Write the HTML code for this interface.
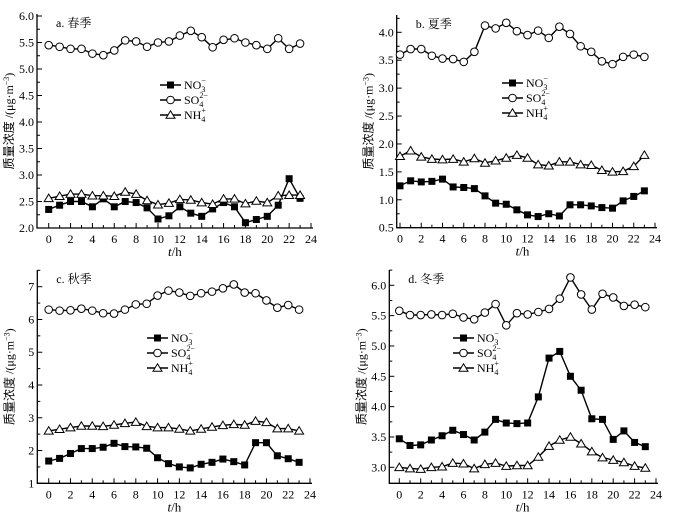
<!DOCTYPE html>
<html><head><meta charset="utf-8">
<style>
html,body{margin:0;padding:0;background:#fff;}
svg{display:block;}
text{font-family:"Liberation Serif","Noto Serif CJK SC",serif;fill:#000;}
</style></head>
<body>
<svg id="chart" width="673" height="522" viewBox="0 0 673 522" xmlns="http://www.w3.org/2000/svg"></svg>
<script>
const hours = [0,1,2,3,4,5,6,7,8,9,10,11,12,13,14,15,16,17,18,19,20,21,22,23];
const xTicks = [0,2,4,6,8,10,12,14,16,18,20,22,24];
const panelTitles = ["a. 春季","b. 夏季","c. 秋季","d. 冬季"];
const seriesNames = ["NO3","SO4","NH4"];
const springNO3 = [2.35,2.43,2.5,2.5,2.4,2.55,2.4,2.5,2.48,2.38,2.17,2.23,2.4,2.28,2.22,2.36,2.48,2.4,2.1,2.16,2.22,2.43,2.93,2.56];
const springSO4 = [5.45,5.42,5.38,5.38,5.29,5.26,5.35,5.54,5.52,5.42,5.5,5.52,5.63,5.72,5.6,5.41,5.55,5.58,5.5,5.45,5.38,5.58,5.38,5.48];
const springNH4 = [2.56,2.6,2.64,2.64,2.61,2.61,2.6,2.68,2.64,2.52,2.44,2.47,2.54,2.53,2.48,2.45,2.55,2.55,2.46,2.51,2.48,2.61,2.62,2.62];
const summerNO3 = [1.25,1.34,1.32,1.33,1.37,1.23,1.22,1.2,1.07,0.94,0.92,0.82,0.73,0.7,0.75,0.71,0.91,0.91,0.89,0.86,0.85,0.98,1.06,1.16];
const summerSO4 = [3.6,3.7,3.7,3.58,3.53,3.52,3.47,3.65,4.12,4.07,4.17,4.02,3.95,4.03,3.9,4.1,3.97,3.75,3.65,3.48,3.43,3.56,3.6,3.56];
const summerNH4 = [1.78,1.88,1.77,1.73,1.72,1.73,1.68,1.74,1.66,1.7,1.75,1.8,1.75,1.63,1.61,1.68,1.68,1.63,1.62,1.53,1.5,1.51,1.6,1.8];
const autumnNO3 = [1.68,1.76,1.91,2.06,2.06,2.1,2.22,2.12,2.11,2.07,1.78,1.6,1.5,1.47,1.58,1.64,1.74,1.66,1.56,2.24,2.24,1.84,1.75,1.64];
const autumnSO4 = [6.3,6.27,6.28,6.33,6.27,6.19,6.18,6.3,6.46,6.48,6.73,6.88,6.82,6.72,6.8,6.85,6.95,7.07,6.82,6.8,6.58,6.36,6.44,6.3];
const autumnNH4 = [2.6,2.65,2.7,2.75,2.75,2.74,2.78,2.83,2.87,2.74,2.7,2.7,2.66,2.6,2.66,2.72,2.77,2.8,2.78,2.9,2.86,2.67,2.67,2.6];
const winterNO3 = [3.47,3.36,3.37,3.45,3.52,3.61,3.54,3.45,3.58,3.79,3.73,3.72,3.73,4.16,4.8,4.91,4.5,4.27,3.8,3.79,3.46,3.6,3.41,3.34];
const winterSO4 = [5.58,5.51,5.51,5.52,5.51,5.53,5.47,5.44,5.55,5.69,5.34,5.54,5.52,5.56,5.61,5.78,6.13,5.85,5.6,5.86,5.8,5.66,5.68,5.64];
const winterNH4 = [3.0,2.98,2.97,3.0,3.01,3.07,3.06,2.98,3.05,3.07,3.02,3.03,3.03,3.17,3.35,3.45,3.5,3.39,3.26,3.16,3.12,3.08,3.02,2.99];
const springYTicks = [2.0,2.5,3.0,3.5,4.0,4.5,5.0,5.5,6.0];
const summerYTicks = [0.5,1.0,1.5,2.0,2.5,3.0,3.5,4.0];
const autumnYTicks = [1,2,3,4,5,6,7];
const winterYTicks = [3.0,3.5,4.0,4.5,5.0,5.5,6.0];

const NS = "http://www.w3.org/2000/svg";
const svg = document.getElementById('chart');
function mk(tag, attrs, parent){
  const e = document.createElementNS(NS, tag);
  for (const k in attrs) e.setAttribute(k, attrs[k]);
  (parent||svg).appendChild(e);
  return e;
}
const panels = [
  {key:'spring', title:panelTitles[0], data:[springNO3,springSO4,springNH4], ticks:springYTicks, dec:1,
   ax:37, x0:48.7, x24:311, yMinPx:228, vMin:2.0, vMaxPx:16, vMax:6.0, axTop:14, legX:160, legY:85},
  {key:'summer', title:panelTitles[1], data:[summerNO3,summerSO4,summerNH4], ticks:summerYTicks, dec:1,
   ax:396.7, x0:400, x24:655, yMinPx:227.7, vMin:0.5, vMaxPx:32.3, vMax:4.0, axTop:15, legX:502, legY:83},
  {key:'autumn', title:panelTitles[2], data:[autumnNO3,autumnSO4,autumnNH4], ticks:autumnYTicks, dec:0,
   ax:37.3, x0:48.7, x24:310, yMinPx:483.3, vMin:1, vMaxPx:286.7, vMax:7, axTop:270, legX:147, legY:338},
  {key:'winter', title:panelTitles[3], data:[winterNO3,winterSO4,winterNH4], ticks:winterYTicks, dec:1,
   ax:389.3, x0:399.3, x24:656, yMinPx:467.3, vMin:3.0, vMaxPx:285.3, vMax:6.0, axTop:270, legX:453, legY:338, bottom:483.3}
];

function marker(g, type, x, y, name){
  let m;
  if (type===0) m = mk('rect',{x:x-3.5,y:y-3.5,width:7,height:7,fill:'#000'},g);
  else if (type===1) m = mk('circle',{cx:x,cy:y,r:3.8,fill:'#fff',stroke:'#000','stroke-width':1},g);
  else m = mk('path',{d:`M${x} ${y-4.2}L${x+4.5} ${y+3.3}L${x-4.5} ${y+3.3}Z`,fill:'#fff',stroke:'#000','stroke-width':1},g);
  
  
  return m;
}

panels.forEach(p => {
  const g = mk('g',{});
  
  
  const xs = h => p.x0 + (p.x24-p.x0)*h/24;
  const ys = v => p.yMinPx + (v-p.vMin)*(p.vMaxPx-p.yMinPx)/(p.vMax-p.vMin);
  const bottom = p.bottom || p.yMinPx;
  const right = p.x24 + 2;
  const axes = mk('path',{d:`M${p.ax} ${p.axTop}V${bottom}H${right}`,fill:'none',stroke:'#000','stroke-width':1.3},g);
  
  
  for (let h=0; h<=24; h++){
    const len = h%2===0 ? 5 : 3;
    mk('line',{x1:xs(h),x2:xs(h),y1:bottom,y2:bottom-len,stroke:'#000','stroke-width':1},g);
  }
  xTicks.forEach(t=>{
    const tx = mk('text',{x:xs(t),y:bottom+15,'font-size':12,'text-anchor':'middle'},g);
    tx.textContent = t;
    
    
  });
  const step = p.ticks[1]-p.ticks[0];
  p.ticks.forEach((t,i)=>{
    const y = ys(t);
    mk('line',{x1:p.ax,x2:p.ax+5,y1:y,y2:y,stroke:'#000','stroke-width':1},g);
    const my = ys(t+step/2);
    if (my >= p.axTop) mk('line',{x1:p.ax,x2:p.ax+3,y1:my,y2:my,stroke:'#000','stroke-width':1},g);
    const tx = mk('text',{x:p.ax-3,y:y+4,'font-size':12,'text-anchor':'end'},g);
    tx.textContent = t.toFixed(p.dec);
    
    
  });
  const xt = mk('text',{x:(p.x0+p.x24)/2-5,y:bottom+28,'font-size':13,'text-anchor':'middle'},g);
  xt.innerHTML = '<tspan font-style="italic">t</tspan>/h';
  
  
  const cy = (p.axTop+bottom)/2;
  const tx0 = p.ax-24;
  const yt = mk('text',{x:tx0,y:cy,'font-size':12,'text-anchor':'middle',transform:`rotate(-90 ${tx0} ${cy})`},g);
  yt.innerHTML = '<tspan font-family="Noto Sans CJK SC, sans-serif">质量浓度</tspan> /(μg·m<tspan dy="-4" font-size="8">−3</tspan><tspan dy="4">)</tspan>';
  
  
  const pt = mk('text',{x:p.ax+19,y:p.axTop+13,'font-size':12},g);
  pt.textContent = p.title;
  
  
  p.data.forEach((arr, si)=>{
    const sg = mk('g',{},g);
    
    
    const d = arr.map((v,i)=>(i?'L':'M')+xs(hours[i]).toFixed(1)+' '+ys(v).toFixed(1)).join('');
    const ln = mk('path',{d:d,fill:'none',stroke:'#000','stroke-width':1.4},sg);
    
    
    arr.forEach((v,i)=>marker(sg, si, xs(hours[i]), ys(v), p.key+'-'+seriesNames[si]+'-point'));
  });
  const lg = mk('g',{},g);
  
  
  const labels = ['NO<tspan dy="3" font-size="8">3</tspan><tspan dy="-9" dx="-4" font-size="8">−</tspan>',
                  'SO<tspan dy="3" font-size="8">4</tspan><tspan dy="-9" dx="-4" font-size="8">2−</tspan>',
                  'NH<tspan dy="3" font-size="8">4</tspan><tspan dy="-9" dx="-4" font-size="8">+</tspan>'];
  [0,1,2].forEach(i=>{
    const y = p.legY + i*15;
    const e = mk('g',{},lg);
    
    
    mk('line',{x1:p.legX,x2:p.legX+21,y1:y,y2:y,stroke:'#000','stroke-width':1.4},e);
    marker(e, i, p.legX+10.5, y, 'legend-marker');
    const t = mk('text',{x:p.legX+24,y:y+4,'font-size':12},e);
    t.innerHTML = labels[i];
  });
});
</script>
</body></html>
